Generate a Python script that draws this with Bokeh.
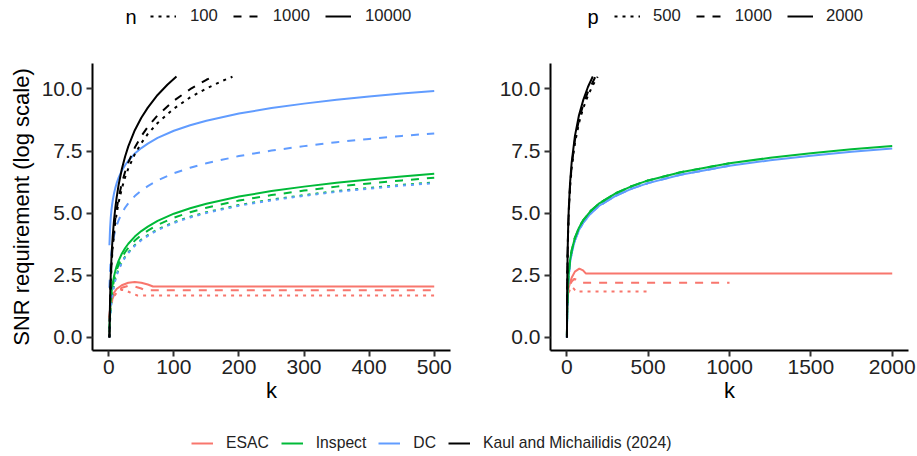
from bokeh.plotting import figure
from bokeh.models import Range1d, FixedTicker, PrintfTickFormatter, Legend, LegendItem, Label
from bokeh.layouts import column, row
from bokeh.embed import file_html
from bokeh.resources import INLINE

NAN = float("nan")

# ---------------- data ----------------
# Left panel: varying n (line type), k on x
K_L = [1, 2, 3, 4, 5, 6, 8, 10, 12, 15, 20, 25, 30, 40, 50, 60, 75, 100, 125, 150, 200, 250, 300, 350, 400, 450, 500]
dc_n10000 = [3.71, 4.40, 4.81, 5.10, 5.32, 5.50, 5.79, 6.01, 6.20, 6.42, 6.71, 6.93, 7.11, 7.40, 7.62, 7.80, 8.03, 8.32, 8.54, 8.72, 9.01, 9.23, 9.41, 9.57, 9.70, 9.82, 9.92]
dc_n1000 = [2.00, 2.69, 3.10, 3.39, 3.61, 3.79, 4.08, 4.30, 4.49, 4.71, 5.00, 5.22, 5.40, 5.69, 5.91, 6.09, 6.32, 6.61, 6.83, 7.01, 7.30, 7.52, 7.70, 7.86, 7.99, 8.11, 8.21]
dc_n100 = [0.00, 0.69, 1.10, 1.39, 1.61, 1.79, 2.08, 2.30, 2.49, 2.71, 3.00, 3.22, 3.40, 3.69, 3.91, 4.09, 4.32, 4.61, 4.83, 5.01, 5.30, 5.52, 5.70, 5.86, 5.99, 6.11, 6.21]
insp_n10000 = [0.37, 1.06, 1.47, 1.76, 1.98, 2.16, 2.45, 2.67, 2.86, 3.08, 3.37, 3.59, 3.77, 4.06, 4.28, 4.46, 4.69, 4.98, 5.20, 5.38, 5.67, 5.89, 6.07, 6.23, 6.36, 6.48, 6.59]
insp_n1000 = [0.21, 0.90, 1.31, 1.60, 1.82, 2.00, 2.29, 2.51, 2.70, 2.92, 3.21, 3.43, 3.61, 3.90, 4.12, 4.30, 4.53, 4.82, 5.04, 5.22, 5.51, 5.73, 5.91, 6.07, 6.20, 6.32, 6.43]
insp_n100 = [0.03, 0.72, 1.13, 1.42, 1.64, 1.82, 2.11, 2.33, 2.52, 2.74, 3.03, 3.25, 3.43, 3.72, 3.94, 4.12, 4.35, 4.64, 4.86, 5.04, 5.33, 5.55, 5.73, 5.89, 6.02, 6.14, 6.24]

esac_k_n10000 = [1, 2, 3, 5, 8, 12, 20, 30, 40, 50, 60, 68, 500]
esac_n10000 = [0.80, 1.15, 1.35, 1.60, 1.80, 1.95, 2.10, 2.20, 2.23, 2.20, 2.13, 2.05, 2.05]
esac_k_n1000 = [1, 2, 3, 5, 8, 12, 20, 30, 40, 50, 55, 500]
esac_n1000 = [0.80, 1.10, 1.30, 1.50, 1.70, 1.85, 2.00, 2.08, 2.05, 1.97, 1.90, 1.90]
esac_k_n100 = [1, 2, 3, 5, 8, 12, 19, 25, 32, 40, 44, 500]
esac_n100 = [0.75, 1.05, 1.25, 1.45, 1.65, 1.80, 1.92, 1.90, 1.82, 1.73, 1.69, 1.69]

km_k_n10000 = [1, 2, 3, 4, 5, 6, 8, 10, 12, 15, 20, 25, 30, 40, 50, 60, 75, 90, 104]
km_n10000 = [0.00, 1.57, 2.48, 3.13, 3.64, 4.05, 4.70, 5.20, 5.62, 6.12, 6.77, 7.27, 7.69, 8.34, 8.84, 9.25, 9.76, 10.17, 10.50]
km_k_n1000 = [1, 2, 3, 4, 5, 6, 8, 10, 12, 15, 20, 25, 30, 40, 50, 60, 75, 100, 125, 150, 161]
km_n1000 = [0.00, 1.43, 2.27, 2.87, 3.33, 3.71, 4.30, 4.77, 5.14, 5.61, 6.20, 6.66, 7.04, 7.64, 8.10, 8.48, 8.94, 9.53, 9.99, 10.37, 10.50]
km_k_n100 = [1, 2, 3, 4, 5, 6, 8, 10, 12, 15, 20, 25, 30, 40, 50, 60, 75, 100, 125, 150, 175, 190]
km_n100 = [0.00, 1.39, 2.20, 2.77, 3.22, 3.58, 4.16, 4.61, 4.97, 5.42, 5.99, 6.44, 6.80, 7.38, 7.82, 8.19, 8.63, 9.21, 9.66, 10.02, 10.33, 10.49]

# Right panel: varying p (line type), k up to p
K_R = [1, 2, 3, 5, 8, 12, 20, 30, 50, 75, 100, 150, 200, 300, 400, 500, 700, 1000, 1250, 1500, 1750, 2000]
dc_right = [0.00, 0.69, 1.10, 1.61, 2.08, 2.49, 3.00, 3.40, 3.91, 4.32, 4.61, 5.01, 5.30, 5.70, 5.99, 6.21, 6.55, 6.91, 7.13, 7.31, 7.47, 7.60]
insp_right = [0.10, 0.79, 1.20, 1.71, 2.18, 2.59, 3.10, 3.50, 4.01, 4.42, 4.71, 5.11, 5.40, 5.80, 6.09, 6.32, 6.65, 7.01, 7.23, 7.41, 7.57, 7.70]

esac_k_p2000 = [1, 5, 10, 20, 30, 50, 77, 100, 118, 2000]
esac_p2000 = [0.90, 1.60, 1.95, 2.20, 2.40, 2.65, 2.77, 2.70, 2.57, 2.57]
esac_k_p1000 = [1, 5, 10, 20, 30, 47, 65, 83, 1000]
esac_p1000 = [0.90, 1.55, 1.85, 2.10, 2.25, 2.36, 2.30, 2.20, 2.20]
esac_k_p500 = [1, 5, 10, 20, 31, 45, 57, 500]
esac_p500 = [0.85, 1.50, 1.75, 1.95, 2.03, 1.95, 1.85, 1.85]

km_k_p2000 = [1, 2, 3, 5, 8, 12, 20, 30, 50, 75, 100, 130, 160]
km_p2000 = [0.00, 1.43, 2.27, 3.33, 4.30, 5.14, 6.20, 7.04, 8.10, 8.94, 9.53, 10.08, 10.50]
km_k_p1000 = [1, 2, 3, 5, 8, 12, 20, 30, 50, 75, 100, 130, 175]
km_p1000 = [0.00, 1.41, 2.23, 3.27, 4.22, 5.04, 6.08, 6.90, 7.94, 8.76, 9.35, 9.88, 10.48]
km_k_p500 = [1, 2, 3, 5, 8, 12, 20, 30, 50, 75, 100, 130, 160, 190]
km_p500 = [0.00, 1.39, 2.20, 3.22, 4.16, 4.97, 5.99, 6.80, 7.82, 8.63, 9.21, 9.73, 10.15, 10.49]

n_levels = ["100", "1000", "10000"]
p_levels = ["500", "1000", "2000"]
methods = ["ESAC", "Inspect", "DC", "Kaul and Michailidis (2024)"]
colors = {"ESAC": "#F8766D", "Inspect": "#00BA38", "DC": "#619CFF", "Kaul and Michailidis (2024)": "#000000"}
y_ticks = [0.0, 2.5, 5.0, 7.5, 10.0]
x_ticks_left = [0, 100, 200, 300, 400, 500]
x_ticks_right = [0, 500, 1000, 1500, 2000]

# ---------------- style ----------------
FONT = "Liberation Sans"
LW = 2
DASH = {"dotted": "3 5", "dashed": "8 8", "solid": "solid"}
n_dash = {"100": DASH["dotted"], "1000": DASH["dashed"], "10000": DASH["solid"]}
p_dash = {"500": DASH["dotted"], "1000": DASH["dashed"], "2000": DASH["solid"]}

LEG_H = 32          # top legend strip
PAN_H = 418 - LEG_H  # panels
FRAME_TOP = 63 - LEG_H


def make_panel(width, x_range, xticks, ylabel, border_left, border_right):
    p = figure(width=width, height=PAN_H, output_backend="svg", toolbar_location=None,
               x_range=x_range, y_range=Range1d(-0.525, 11.025),
               min_border_left=border_left, min_border_right=border_right,
               min_border_top=FRAME_TOP, min_border_bottom=PAN_H - FRAME_TOP - 287)
    p.outline_line_color = None
    p.grid.visible = False
    p.background_fill_color = "white"
    p.border_fill_color = "white"
    p.xaxis.ticker = FixedTicker(ticks=xticks)
    p.yaxis.ticker = FixedTicker(ticks=y_ticks)
    p.yaxis.formatter = PrintfTickFormatter(format="%.1f")
    for ax in (p.xaxis, p.yaxis):
        ax.axis_line_width = 2
        ax.axis_line_color = "black"
        ax.major_tick_line_width = 2
        ax.major_tick_line_color = "#333333"
        ax.major_tick_in = 0
        ax.major_tick_out = 6
        ax.minor_tick_line_color = None
        ax.major_label_text_font = FONT
        ax.major_label_text_font_size = "21px"
        ax.major_label_text_color = "#222222"
        ax.axis_label_text_font = FONT
        ax.axis_label_text_font_size = "22px"
        ax.axis_label_text_font_style = "normal"
        ax.axis_label_text_color = "black"
    p.xaxis.major_label_standoff = 3
    p.yaxis.major_label_standoff = 4
    p.xaxis.axis_label = "k"
    p.xaxis.axis_label_standoff = 1
    if ylabel:
        p.yaxis.axis_label = ylabel
        p.yaxis.axis_label_standoff = 5
    return p


p1 = make_panel(466, Range1d(-25, 525), x_ticks_left, "SNR requirement (log scale)", 92, 16)
p2 = make_panel(451, Range1d(-100, 2100), x_ticks_right, None, 84, 9)

# left panel lines (drawing order: ESAC, Inspect, DC, KM)
left_series = [
    ("ESAC", "100", esac_k_n100, esac_n100), ("ESAC", "1000", esac_k_n1000, esac_n1000), ("ESAC", "10000", esac_k_n10000, esac_n10000),
    ("Inspect", "100", K_L, insp_n100), ("Inspect", "1000", K_L, insp_n1000), ("Inspect", "10000", K_L, insp_n10000),
    ("DC", "100", K_L, dc_n100), ("DC", "1000", K_L, dc_n1000), ("DC", "10000", K_L, dc_n10000),
    ("Kaul and Michailidis (2024)", "100", km_k_n100, km_n100), ("Kaul and Michailidis (2024)", "1000", km_k_n1000, km_n1000),
    ("Kaul and Michailidis (2024)", "10000", km_k_n10000, km_n10000),
]
for m, lev, xs, ys in left_series:
    p1.line(xs, ys, line_color=colors[m], line_width=LW, line_dash=n_dash[lev], line_cap="butt")


def upto(xs, ys, kmax):
    pts = [(x, y) for x, y in zip(xs, ys) if x <= kmax]
    return [a for a, _ in pts], [b for _, b in pts]


right_series = [
    ("ESAC", "500", esac_k_p500, esac_p500), ("ESAC", "1000", esac_k_p1000, esac_p1000), ("ESAC", "2000", esac_k_p2000, esac_p2000),
]
for lev in p_levels:
    right_series.append(("DC", lev) + upto(K_R, dc_right, int(lev)))
for lev in p_levels:
    right_series.append(("Inspect", lev) + upto(K_R, insp_right, int(lev)))
right_series += [
    ("Kaul and Michailidis (2024)", "500", km_k_p500, km_p500), ("Kaul and Michailidis (2024)", "1000", km_k_p1000, km_p1000),
    ("Kaul and Michailidis (2024)", "2000", km_k_p2000, km_p2000),
]
for m, lev, xs, ys in right_series:
    p2.line(xs, ys, line_color=colors[m], line_width=LW, line_dash=p_dash[lev], line_cap="butt")


def legend_strip(width, height):
    f = figure(width=width, height=height, output_backend="svg", toolbar_location=None,
               x_range=Range1d(0, 1), y_range=Range1d(0, 1), x_axis_type=None, y_axis_type=None,
               min_border=0)
    f.outline_line_color = None
    f.grid.visible = False
    return f


LEG_STYLE = dict(padding=0, margin=0, glyph_height=20, label_height=20,
                 label_text_font=FONT, label_text_color="#222222",
                 border_line_color=None, background_fill_alpha=0, orientation="horizontal")

# top linetype legends (title drawn as a plain label to its left)
ptop = legend_strip(917, LEG_H)
for title, levels, dashes, tx, kx, stand in (("n", n_levels, n_dash, 125, 150, 14), ("p", p_levels, p_dash, 587, 614, 13)):
    items = []
    for lev in levels:
        r = ptop.line([NAN], [NAN], line_color="black", line_width=LW, line_dash=dashes[lev], line_cap="butt")
        items.append(LegendItem(label=lev, renderers=[r]))
    leg = Legend(items=items, location=(kx, 6), spacing=15, glyph_width=26, label_standoff=stand,
                 label_text_font_size="16.7px", **LEG_STYLE)
    ptop.add_layout(leg)
    ptop.add_layout(Label(x=tx, y=LEG_H - 16, x_units="screen", y_units="screen", text=title,
                          text_font=FONT, text_font_size="20px", text_color="black",
                          text_baseline="middle", text_align="left"))

# bottom colour legend
p3 = legend_strip(917, 456 - 418)
items = []
for m in methods:
    r = p3.line([NAN], [NAN], line_color=colors[m], line_width=LW)
    items.append(LegendItem(label=m, renderers=[r]))
leg3 = Legend(items=items, location=(191, 3), spacing=12, glyph_width=22, label_standoff=13,
              label_text_font_size="15.7px", **LEG_STYLE)
p3.add_layout(leg3)

layout = column(ptop, row(p1, p2), p3)
open("out.html", "w").write(file_html(layout, INLINE))
